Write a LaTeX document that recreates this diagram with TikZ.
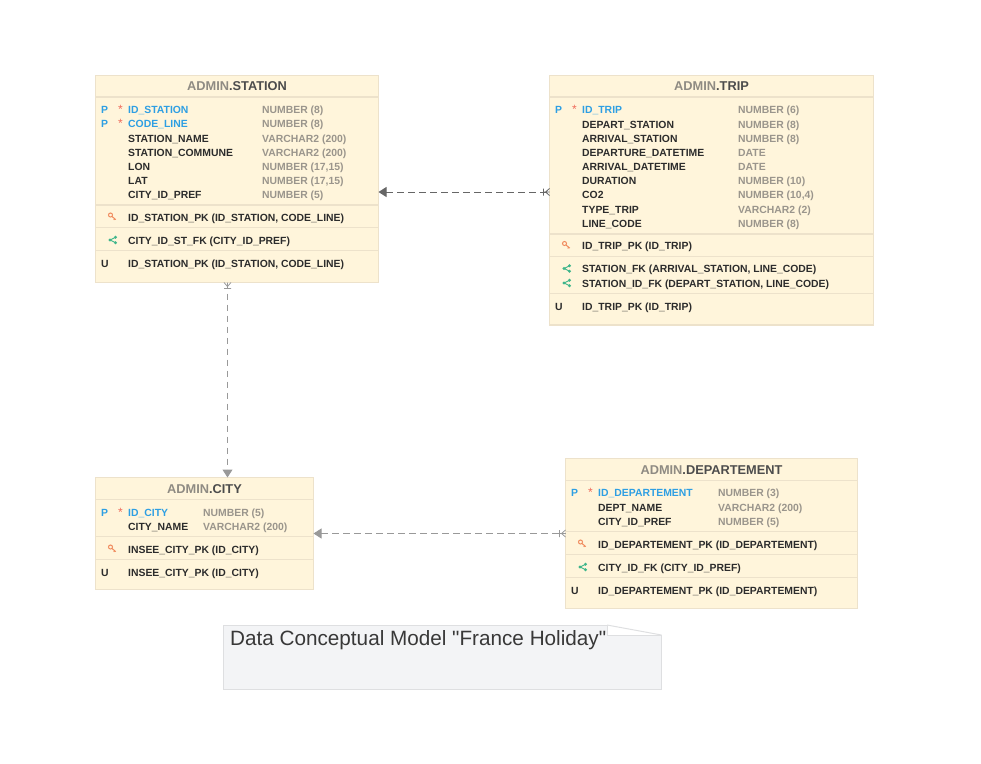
\documentclass[tikz,border=0pt]{standalone}
\usepackage{fontspec}
\setmainfont{Liberation Sans}
\newfontfamily\notefont{Liberation Sans}
\usetikzlibrary{arrows.meta, positioning}
\definecolor{boxfill}{HTML}{FFF5DB}
\definecolor{boxline}{HTML}{EDE2CB}
\definecolor{keyblue}{HTML}{2E9FE3}
\definecolor{starred}{HTML}{EF6A5A}
\definecolor{typegray}{HTML}{9A958C}
\definecolor{namedark}{HTML}{2C2C2C}
\definecolor{schemagray}{HTML}{8F8B83}
\definecolor{iconorange}{HTML}{F08A5D}
\definecolor{icongreen}{HTML}{3DB58A}
\definecolor{notefill}{HTML}{F3F4F6}
\definecolor{noteline}{HTML}{DEDFE1}
\tikzset{
	tablebox/.style={draw=boxline, fill=boxfill, line width=1pt, inner sep=0pt, outer sep=0pt},
	tabletitle/.style={inner sep=0pt, anchor=base, font=\bfseries\fontsize{12.8}{14}\selectfont, text=schemagray},
	colname/.style={inner sep=0pt, anchor=base west, font=\bfseries\fontsize{10.4}{12}\selectfont, text=namedark},
	keyname/.style={colname, text=keyblue},
	coltype/.style={colname, text=typegray},
	colstar/.style={colname, font=\fontsize{12}{12}\selectfont, text=starred},
	relation/.style={dash pattern=on 6.5pt off 4.5pt, line width=1pt},
	pointtip/.tip={Triangle[length=8pt, width=10pt]},
	crowfoot/.pic={\draw[solid, arrows=-, line width=0.8pt] (0,0) -- (6,0) (0,-3.5) -- (4,0) -- (0,3.5) (6,-3.5) -- (6,3.5);},
}
% small glyphs of the constraint rows
\newcommand{\keyglyph}[2]{%
	\draw[iconorange, line width=1pt] (#1-2,#2-2) circle (2) (#1-0.6,#2-0.6) -- (#1+3.2,#2+2.6) (#1+2,#2+1.6) -- (#1+1.4,#2+3);}
\newcommand{\shareglyph}[2]{%
	\draw[icongreen, line width=0.9pt] (#1+3,#2-2.7) -- (#1-2.5,#2) -- (#1+3,#2+2.7);
	\fill[icongreen] (#1+3,#2-2.7) circle (1.6) (#1-2.5,#2) circle (1.6) (#1+3,#2+2.7) circle (1.6);}
\begin{document}
\begin{tikzpicture}[x=1pt, y=-1pt]
	\useasboundingbox (0,0) rectangle (981,763);
	% tables
	\node[tablebox, minimum width=283pt, minimum height=207pt] (station) at (237,179) {};
	\node[tablebox, minimum width=324pt, minimum height=250pt] (trip) at (711.5,200.5) {};
	\node[tablebox, minimum width=218pt, minimum height=112pt] (city) at (204.5,533.5) {};
	\node[tablebox, minimum width=292pt, minimum height=150pt] (departement) at (711.5,533.5) {};
	% separators
	\foreach \x/\xx/\y/\w in {96/378/97/2, 96/378/204.5/2, 96/378/227/1, 96/378/250/1, 550/873/97/2, 550/873/233.5/2, 550/873/256.5/1, 550/873/293.5/1, 550/873/324.5/1.5, 96/313/499.5/1, 96/313/536.5/1, 96/313/559.5/1, 566/857/480.5/1, 566/857/531.5/1, 566/857/554.5/1, 566/857/577.5/1}
		\draw[boxline, line width=\w pt] (\x,\y) -- (\xx,\y);
	% titles
	\node[tabletitle] (stationtitle) at (237,90) {ADMIN\textcolor{black!70}{.STATION}};
	\node[tabletitle] (triptitle) at (711.5,90) {ADMIN\textcolor{black!70}{.TRIP}};
	\node[tabletitle] (citytitle) at (204.5,493) {ADMIN\textcolor{black!70}{.CITY}};
	\node[tabletitle] (departementtitle) at (711.5,474) {ADMIN\textcolor{black!70}{.DEPARTEMENT}};
	% STATION
	\foreach \n/\y/\s/\a/\t in {1/113/keyname/ID\_STATION/NUMBER (8), 2/127.5/keyname/CODE\_LINE/NUMBER (8), 3/142/colname/STATION\_NAME/VARCHAR2 (200), 4/156/colname/STATION\_COMMUNE/VARCHAR2 (200), 5/170/colname/LON/{NUMBER (17,15)}, 6/184/colname/LAT/{NUMBER (17,15)}, 7/198/colname/CITY\_ID\_PREF/NUMBER (5)} {
		\node[\s] (stationname\n) at (128,\y) {\a};
		\node[coltype] (stationtype\n) at (262,\y) {\t};
	}
	\foreach \n/\y in {1/113, 2/127.5} {
		\node[keyname] (stationp\n) at (101,\y) {P};
		\node[colstar] (stationstar\n) at (118,\y) {*};
	}
	\keyglyph{112.5}{217}
	\node[colname] (stationpk) at (128,221) {ID\_STATION\_PK (ID\_STATION, CODE\_LINE)};
	\shareglyph{112.5}{240}
	\node[colname] (stationfk) at (128,244) {CITY\_ID\_ST\_FK (CITY\_ID\_PREF)};
	\node[colname] (stationu) at (101,267) {U};
	\node[colname] (stationuk) at (128,267) {ID\_STATION\_PK (ID\_STATION, CODE\_LINE)};
	% TRIP
	\foreach \n/\y/\s/\a/\t in {1/113/keyname/ID\_TRIP/NUMBER (6), 2/128/colname/DEPART\_STATION/NUMBER (8), 3/142/colname/ARRIVAL\_STATION/NUMBER (8), 4/156/colname/DEPARTURE\_DATETIME/DATE, 5/170/colname/ARRIVAL\_DATETIME/DATE, 6/184/colname/DURATION/NUMBER (10), 7/198/colname/CO2/{NUMBER (10,4)}, 8/213/colname/TYPE\_TRIP/VARCHAR2 (2), 9/227/colname/LINE\_CODE/NUMBER (8)} {
		\node[\s] (tripname\n) at (582,\y) {\a};
		\node[coltype] (triptype\n) at (738,\y) {\t};
	}
	\node[keyname] (tripp) at (555,113) {P};
	\node[colstar] (tripstar) at (572,113) {*};
	\keyglyph{566.5}{245.5}
	\node[colname] (trippk) at (582,249.5) {ID\_TRIP\_PK (ID\_TRIP)};
	\shareglyph{566.5}{268.5}
	\node[colname] (tripfka) at (582,272.5) {STATION\_FK (ARRIVAL\_STATION, LINE\_CODE)};
	\shareglyph{566.5}{283}
	\node[colname] (tripfkb) at (582,287) {STATION\_ID\_FK (DEPART\_STATION, LINE\_CODE)};
	\node[colname] (tripu) at (555,310) {U};
	\node[colname] (tripuk) at (582,310) {ID\_TRIP\_PK (ID\_TRIP)};
	% CITY
	\node[keyname] (cityp) at (101,516) {P};
	\node[colstar] (citystar) at (118,516) {*};
	\node[keyname] (cityname1) at (128,516) {ID\_CITY};
	\node[coltype] (citytype1) at (203,516) {NUMBER (5)};
	\node[colname] (cityname2) at (128,530) {CITY\_NAME};
	\node[coltype] (citytype2) at (203,530) {VARCHAR2 (200)};
	\keyglyph{112.5}{549}
	\node[colname] (citypk) at (128,553) {INSEE\_CITY\_PK (ID\_CITY)};
	\node[colname] (cityu) at (101,576) {U};
	\node[colname] (cityuk) at (128,576) {INSEE\_CITY\_PK (ID\_CITY)};
	% DEPARTEMENT
	\node[keyname] (departementp) at (571,496) {P};
	\node[colstar] (departementstar) at (588,496) {*};
	\node[keyname] (departementname1) at (598,496) {ID\_DEPARTEMENT};
	\node[coltype] (departementtype1) at (718,496) {NUMBER (3)};
	\node[colname] (departementname2) at (598,511) {DEPT\_NAME};
	\node[coltype] (departementtype2) at (718,511) {VARCHAR2 (200)};
	\node[colname] (departementname3) at (598,525) {CITY\_ID\_PREF};
	\node[coltype] (departementtype3) at (718,525) {NUMBER (5)};
	\keyglyph{582.5}{544}
	\node[colname] (departementpk) at (598,548) {ID\_DEPARTEMENT\_PK (ID\_DEPARTEMENT)};
	\shareglyph{582.5}{567}
	\node[colname] (departementfk) at (598,571) {CITY\_ID\_FK (CITY\_ID\_PREF)};
	\node[colname] (departementu) at (571,594) {U};
	\node[colname] (departementuk) at (598,594) {ID\_DEPARTEMENT\_PK (ID\_DEPARTEMENT)};
	% relations
	\draw[relation, black!60, {pointtip}-] ([yshift=-13pt]station.east) -- ([yshift=8.5pt]trip.west) pic[rotate=180] {crowfoot};
	\draw[relation, black!40, {pointtip}-] (city.east) -- (departement.west) pic[rotate=180] {crowfoot};
	\draw[relation, black!40, -{pointtip}] ([xshift=-9.5pt]station.south) pic[rotate=-90] {crowfoot} -- ([xshift=23pt]city.north);
	% note
	\draw[fill=notefill, draw=noteline, line width=1pt] (223.5,625) -- (607,625) -- (607,635) -- (661.5,635) -- (661.5,689.5) -- (223.5,689.5) -- cycle;
	\draw[noteline, line width=1pt] (607,625) -- (661.5,635);
	\node[inner sep=0pt, anchor=base west, font=\notefont\fontsize{20.7}{24}\selectfont, text=black!78] (notetext) at (230,645) {Data Conceptual Model "France Holiday"};
\end{tikzpicture}
\end{document}
